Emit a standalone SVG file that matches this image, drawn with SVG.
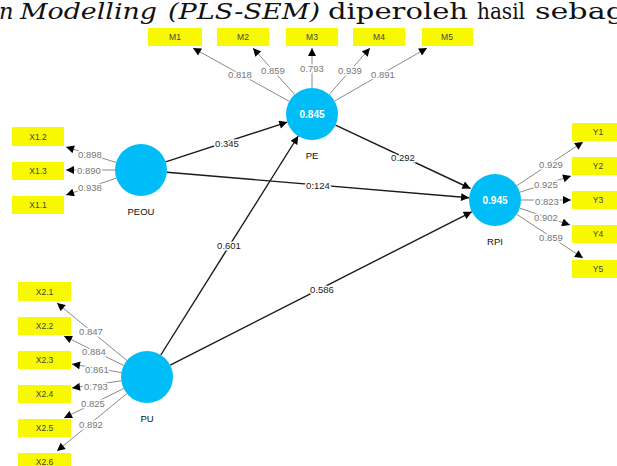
<svg xmlns="http://www.w3.org/2000/svg" width="617" height="466" viewBox="0 0 617 466">
<style>
.bg{fill:#ffffff}
.lv{fill:#00bdf7}
.ind{fill:#f8f800}
.it{font-family:"Liberation Sans",Arial,sans-serif;font-size:8.5px;fill:#444;text-anchor:middle;dominant-baseline:central}
.nm{font-family:"Liberation Sans",Arial,sans-serif;font-size:9.5px;fill:#111;text-anchor:middle;dominant-baseline:central}
.r2{font-family:"Liberation Sans",Arial,sans-serif;font-size:10px;font-weight:bold;fill:#fff;text-anchor:middle;dominant-baseline:central}
.ol{stroke:#8a8a8a;stroke-width:1;fill:none;marker-end:url(#ah)}
.sl{stroke:#1a1a1a;stroke-width:1.4;fill:none;marker-end:url(#ah)}
.ll{font-family:"Liberation Sans",Arial,sans-serif;font-size:9.5px;fill:#777;text-anchor:middle;dominant-baseline:central;stroke:#fff;stroke-width:3px;paint-order:stroke}
.pl{font-family:"Liberation Sans",Arial,sans-serif;font-size:9.5px;fill:#222;text-anchor:middle;dominant-baseline:central;stroke:#fff;stroke-width:3px;paint-order:stroke}
.hd{font-family:"DejaVu Serif","Liberation Serif",serif;font-size:22.5px;fill:#111}
</style>
<defs>
<marker id="ah" viewBox="0 0 10 10" refX="10" refY="5" markerWidth="9" markerHeight="8" markerUnits="userSpaceOnUse" orient="auto">
<path d="M0,0 L10,5 L0,10 z" fill="#000"/>
</marker>
</defs>
<rect class="bg" x="0" y="0" width="617" height="466"/>
<g id="heading">
<text class="hd" y="19" font-style="italic"><tspan x="-1">n</tspan><tspan x="20" textLength="137" lengthAdjust="spacingAndGlyphs">Modelling</tspan><tspan x="168" textLength="152" lengthAdjust="spacingAndGlyphs">(PLS-SEM)</tspan></text>
<text class="hd" y="19"><tspan x="328" textLength="140" lengthAdjust="spacingAndGlyphs">diperoleh</tspan><tspan x="477" textLength="48" lengthAdjust="spacingAndGlyphs">hasil</tspan><tspan x="535" textLength="90" lengthAdjust="spacingAndGlyphs">sebag</tspan></text>
</g>
<g id="connectors">
<line class="ol" x1="289.3" y1="101.4" x2="193" y2="48"/>
<line class="ol" x1="294.7" y1="94.6" x2="253" y2="48"/>
<line class="ol" x1="312" y1="88" x2="312" y2="48"/>
<line class="ol" x1="329.2" y1="94.5" x2="370" y2="48"/>
<line class="ol" x1="334.5" y1="101.1" x2="427" y2="48"/>
<line class="ol" x1="116.1" y1="162.4" x2="66" y2="147"/>
<line class="ol" x1="115" y1="170" x2="66" y2="170"/>
<line class="ol" x1="116.3" y1="178.2" x2="66" y2="195"/>
<line class="ol" x1="516.7" y1="185.7" x2="583" y2="142"/>
<line class="ol" x1="519.8" y1="192.2" x2="571" y2="176"/>
<line class="ol" x1="521" y1="200" x2="571" y2="200"/>
<line class="ol" x1="519.7" y1="208.2" x2="570" y2="225"/>
<line class="ol" x1="516.7" y1="214.3" x2="583" y2="258"/>
<line class="ol" x1="126.9" y1="360.5" x2="57" y2="303"/>
<line class="ol" x1="123.7" y1="365.5" x2="64" y2="336"/>
<line class="ol" x1="121.4" y1="372.6" x2="72" y2="364"/>
<line class="ol" x1="121.3" y1="380.8" x2="72" y2="388"/>
<line class="ol" x1="123.7" y1="388.5" x2="64" y2="418"/>
<line class="ol" x1="126.9" y1="393.5" x2="57" y2="451"/>
<line class="sl" x1="165.7" y1="161.9" x2="287.3" y2="122.1"/>
<line class="sl" x1="166.9" y1="172.2" x2="469.1" y2="197.8"/>
<line class="sl" x1="335.5" y1="125.1" x2="470.5" y2="188.5"/>
<line class="sl" x1="160.8" y1="355" x2="298.2" y2="136"/>
<line class="sl" x1="170.2" y1="365.2" x2="471.8" y2="211.8"/>
<text class="ll" x="240" y="74">0.818</text>
<text class="ll" x="273" y="70">0.859</text>
<text class="ll" x="312" y="68">0.793</text>
<text class="ll" x="350" y="70">0.939</text>
<text class="ll" x="383" y="74">0.891</text>
<text class="ll" x="90" y="154">0.898</text>
<text class="ll" x="89" y="170">0.890</text>
<text class="ll" x="90" y="187">0.938</text>
<text class="ll" x="551" y="164">0.929</text>
<text class="ll" x="546" y="184">0.925</text>
<text class="ll" x="547" y="201">0.823</text>
<text class="ll" x="546" y="217">0.902</text>
<text class="ll" x="551" y="237">0.859</text>
<text class="ll" x="91" y="331">0.847</text>
<text class="ll" x="94" y="351">0.884</text>
<text class="ll" x="97" y="369">0.861</text>
<text class="ll" x="96" y="386">0.793</text>
<text class="ll" x="93" y="403">0.825</text>
<text class="ll" x="91" y="424">0.892</text>
<text class="pl" x="227" y="143">0.345</text>
<text class="pl" x="318" y="185">0.124</text>
<text class="pl" x="403" y="157">0.292</text>
<text class="pl" x="229" y="245">0.601</text>
<text class="pl" x="322" y="289">0.586</text>
</g>
<g id="PE"><circle class="lv" cx="312" cy="114" r="26"/><text class="r2" x="312" y="114">0.845</text><text class="nm" x="312" y="155">PE</text></g>
<g id="PEOU"><circle class="lv" cx="141" cy="170" r="26"/><text class="nm" x="141" y="211">PEOU</text></g>
<g id="RPI"><circle class="lv" cx="495" cy="200" r="26"/><text class="r2" x="495" y="200">0.945</text><text class="nm" x="495" y="241">RPI</text></g>
<g id="PU"><circle class="lv" cx="147" cy="377" r="26"/><text class="nm" x="147" y="418">PU</text></g>
<g id="M1"><rect class="ind" x="148" y="28" width="54" height="18"/><text class="it" x="175" y="37">M1</text></g>
<g id="M2"><rect class="ind" x="217" y="28" width="52" height="18"/><text class="it" x="243" y="37">M2</text></g>
<g id="M3"><rect class="ind" x="286" y="28" width="52" height="18"/><text class="it" x="312" y="37">M3</text></g>
<g id="M4"><rect class="ind" x="353" y="28" width="52" height="18"/><text class="it" x="379" y="37">M4</text></g>
<g id="M5"><rect class="ind" x="422" y="28" width="51" height="18"/><text class="it" x="447" y="37">M5</text></g>
<g id="X1.2"><rect class="ind" x="12" y="127" width="52" height="19"/><text class="it" x="38" y="136.5">X1.2</text></g>
<g id="X1.3"><rect class="ind" x="12" y="162" width="52" height="18"/><text class="it" x="38" y="171">X1.3</text></g>
<g id="X1.1"><rect class="ind" x="12" y="196" width="52" height="18"/><text class="it" x="38" y="205">X1.1</text></g>
<g id="Y1"><rect class="ind" x="572" y="123" width="52" height="18"/><text class="it" x="598" y="132">Y1</text></g>
<g id="Y2"><rect class="ind" x="572" y="157" width="52" height="18"/><text class="it" x="598" y="166">Y2</text></g>
<g id="Y3"><rect class="ind" x="572" y="191" width="52" height="18"/><text class="it" x="598" y="200">Y3</text></g>
<g id="Y4"><rect class="ind" x="572" y="225" width="52" height="18"/><text class="it" x="598" y="234">Y4</text></g>
<g id="Y5"><rect class="ind" x="572" y="260" width="52" height="18"/><text class="it" x="598" y="269">Y5</text></g>
<g id="X2.1"><rect class="ind" x="18" y="282" width="53" height="19"/><text class="it" x="44.5" y="291.5">X2.1</text></g>
<g id="X2.2"><rect class="ind" x="18" y="317" width="53" height="18"/><text class="it" x="44.5" y="326">X2.2</text></g>
<g id="X2.3"><rect class="ind" x="18" y="351" width="53" height="18"/><text class="it" x="44.5" y="360">X2.3</text></g>
<g id="X2.4"><rect class="ind" x="18" y="385" width="53" height="18"/><text class="it" x="44.5" y="394">X2.4</text></g>
<g id="X2.5"><rect class="ind" x="18" y="419" width="53" height="18"/><text class="it" x="44.5" y="428">X2.5</text></g>
<g id="X2.6"><rect class="ind" x="18" y="453" width="53" height="18"/><text class="it" x="44.5" y="462">X2.6</text></g>
</svg>
